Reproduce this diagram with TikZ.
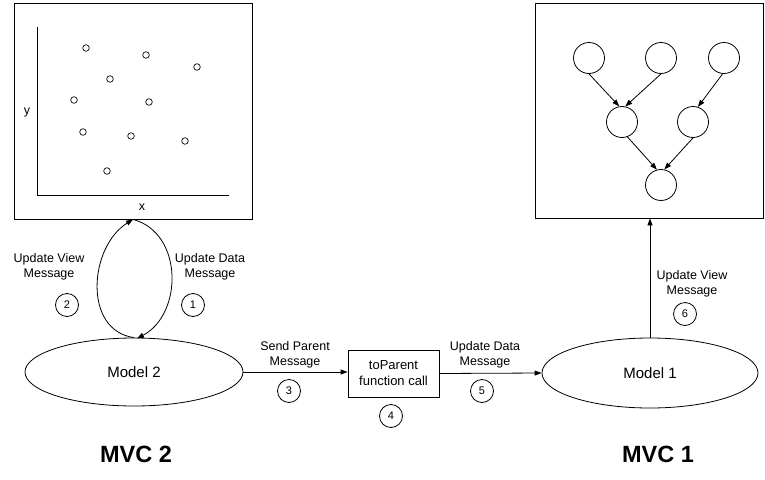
\documentclass[tikz,border=0pt]{standalone}
\usepackage{fontspec}
\setmainfont{Liberation Sans}
\usetikzlibrary{shapes.geometric,arrows.meta,calc}
\begin{document}
\begin{tikzpicture}[x=1pt,y=1pt,
  line width=0.8pt,
  arr/.style={-{Triangle[length=7pt,width=5pt]}},
  viewbox/.style={draw,rectangle,inner sep=0pt},
  modelnode/.style={draw,ellipse,inner sep=0pt,font=\fontsize{15}{18}\selectfont},
  lbl/.style={align=center,inner sep=0pt,font=\fontsize{12.5}{15.5}\selectfont},
  num/.style={draw,circle,minimum size=23pt,inner sep=0pt,font=\fontsize{11}{13}\selectfont},
  pt/.style={draw,circle,minimum size=6.6pt,inner sep=0pt,line width=0.7pt},
  tnode/.style={draw,circle,minimum size=31pt,inner sep=0pt},
  mvc/.style={inner sep=0pt,font=\fontsize{23.5}{28}\selectfont\bfseries}
]
\useasboundingbox (0,0) rectangle (765,-479);

% ---- MVC 2 view (scatter plot)
\node[viewbox,minimum width=238pt,minimum height=216pt] (view2) at (133,-111) {};
\coordinate (ytop) at (37,-27);
\coordinate (orig) at (37,-195);
\coordinate (xend) at (229,-195);
\draw (ytop) -- (orig) -- (xend);
\node[lbl] (ylab) at (27,-112) {y};
\node[lbl] (xlab) at (142,-207) {x};
\foreach \i/\px/\py in {1/86/48,2/146/55,3/197/67,4/110/79,5/74/100,6/149/102,7/83/132,8/131/136,9/185/141,10/107/171}
  \node[pt] (p\i) at (\px,-\py) {};

% ---- MVC 1 view (tree)
\node[viewbox,minimum width=228pt,minimum height=215pt] (view1) at (649,-110.5) {};
\node[tnode] (t1) at (589,-58) {};
\node[tnode] (t2) at (661,-58) {};
\node[tnode] (t3) at (724,-58) {};
\node[tnode] (m1) at (622,-122) {};
\node[tnode] (m2) at (693,-122) {};
\node[tnode] (b1) at (661,-185) {};
\draw[arr] (t1.south) -- (m1.100);
\draw[arr] (t2.south) -- (m1.78);
\draw[arr] (t3.265) -- (m2.72);
\draw[arr] (m1.290) -- (b1.105);
\draw[arr] (m2.south) -- (b1.78);

% ---- models
\node[modelnode,minimum width=218pt,minimum height=68pt] (model2) at (134,-372) {Model 2};
\node[modelnode,minimum width=216pt,minimum height=70pt] (model1) at (650,-373) {Model 1};
\node[draw,rectangle,inner sep=0pt,minimum width=91pt,minimum height=47pt,align=center,
      font=\fontsize{13}{16}\selectfont] (fcall) at (393.5,-373.5) {toParent\\function call};

% ---- loop between view 2 and model 2
\coordinate (loopbot) at (137,-338.5);
\draw[arr] (model2.north) to[out=172,in=212,looseness=1.12] (view2.south);
\draw[arr] (view2.south) to[out=-15,in=28,looseness=1.12] (loopbot);

% ---- horizontal flow
\draw[arr] (model2.east) -- (fcall.west |- model2.east);
\draw[arr] (fcall.east) -- (model1.west);
\draw[arr] (model1.north) -- (model1.north |- view1.south);

% ---- labels
\node[lbl] (l2) at (49,-267) {Update View\\Message};
\node[num] (n2) at (67,-305) {2};
\node[lbl] (l1) at (210,-267) {Update Data\\Message};
\node[num] (n1) at (193,-305) {1};
\node[lbl] (l3) at (295,-355) {Send Parent\\Message};
\node[num] (n3) at (289,-391) {3};
\node[num] (n4) at (391,-416) {4};
\node[lbl] (l5) at (485,-355) {Update Data\\Message};
\node[num] (n5) at (482,-391) {5};
\node[lbl] (l6) at (692,-284) {Update View\\Message};
\node[num] (n6) at (685,-314) {6};

\node[mvc] (mvc2) at (136,-454.5) {MVC 2};
\node[mvc] (mvc1) at (658,-454.5) {MVC 1};
\end{tikzpicture}
\end{document}
